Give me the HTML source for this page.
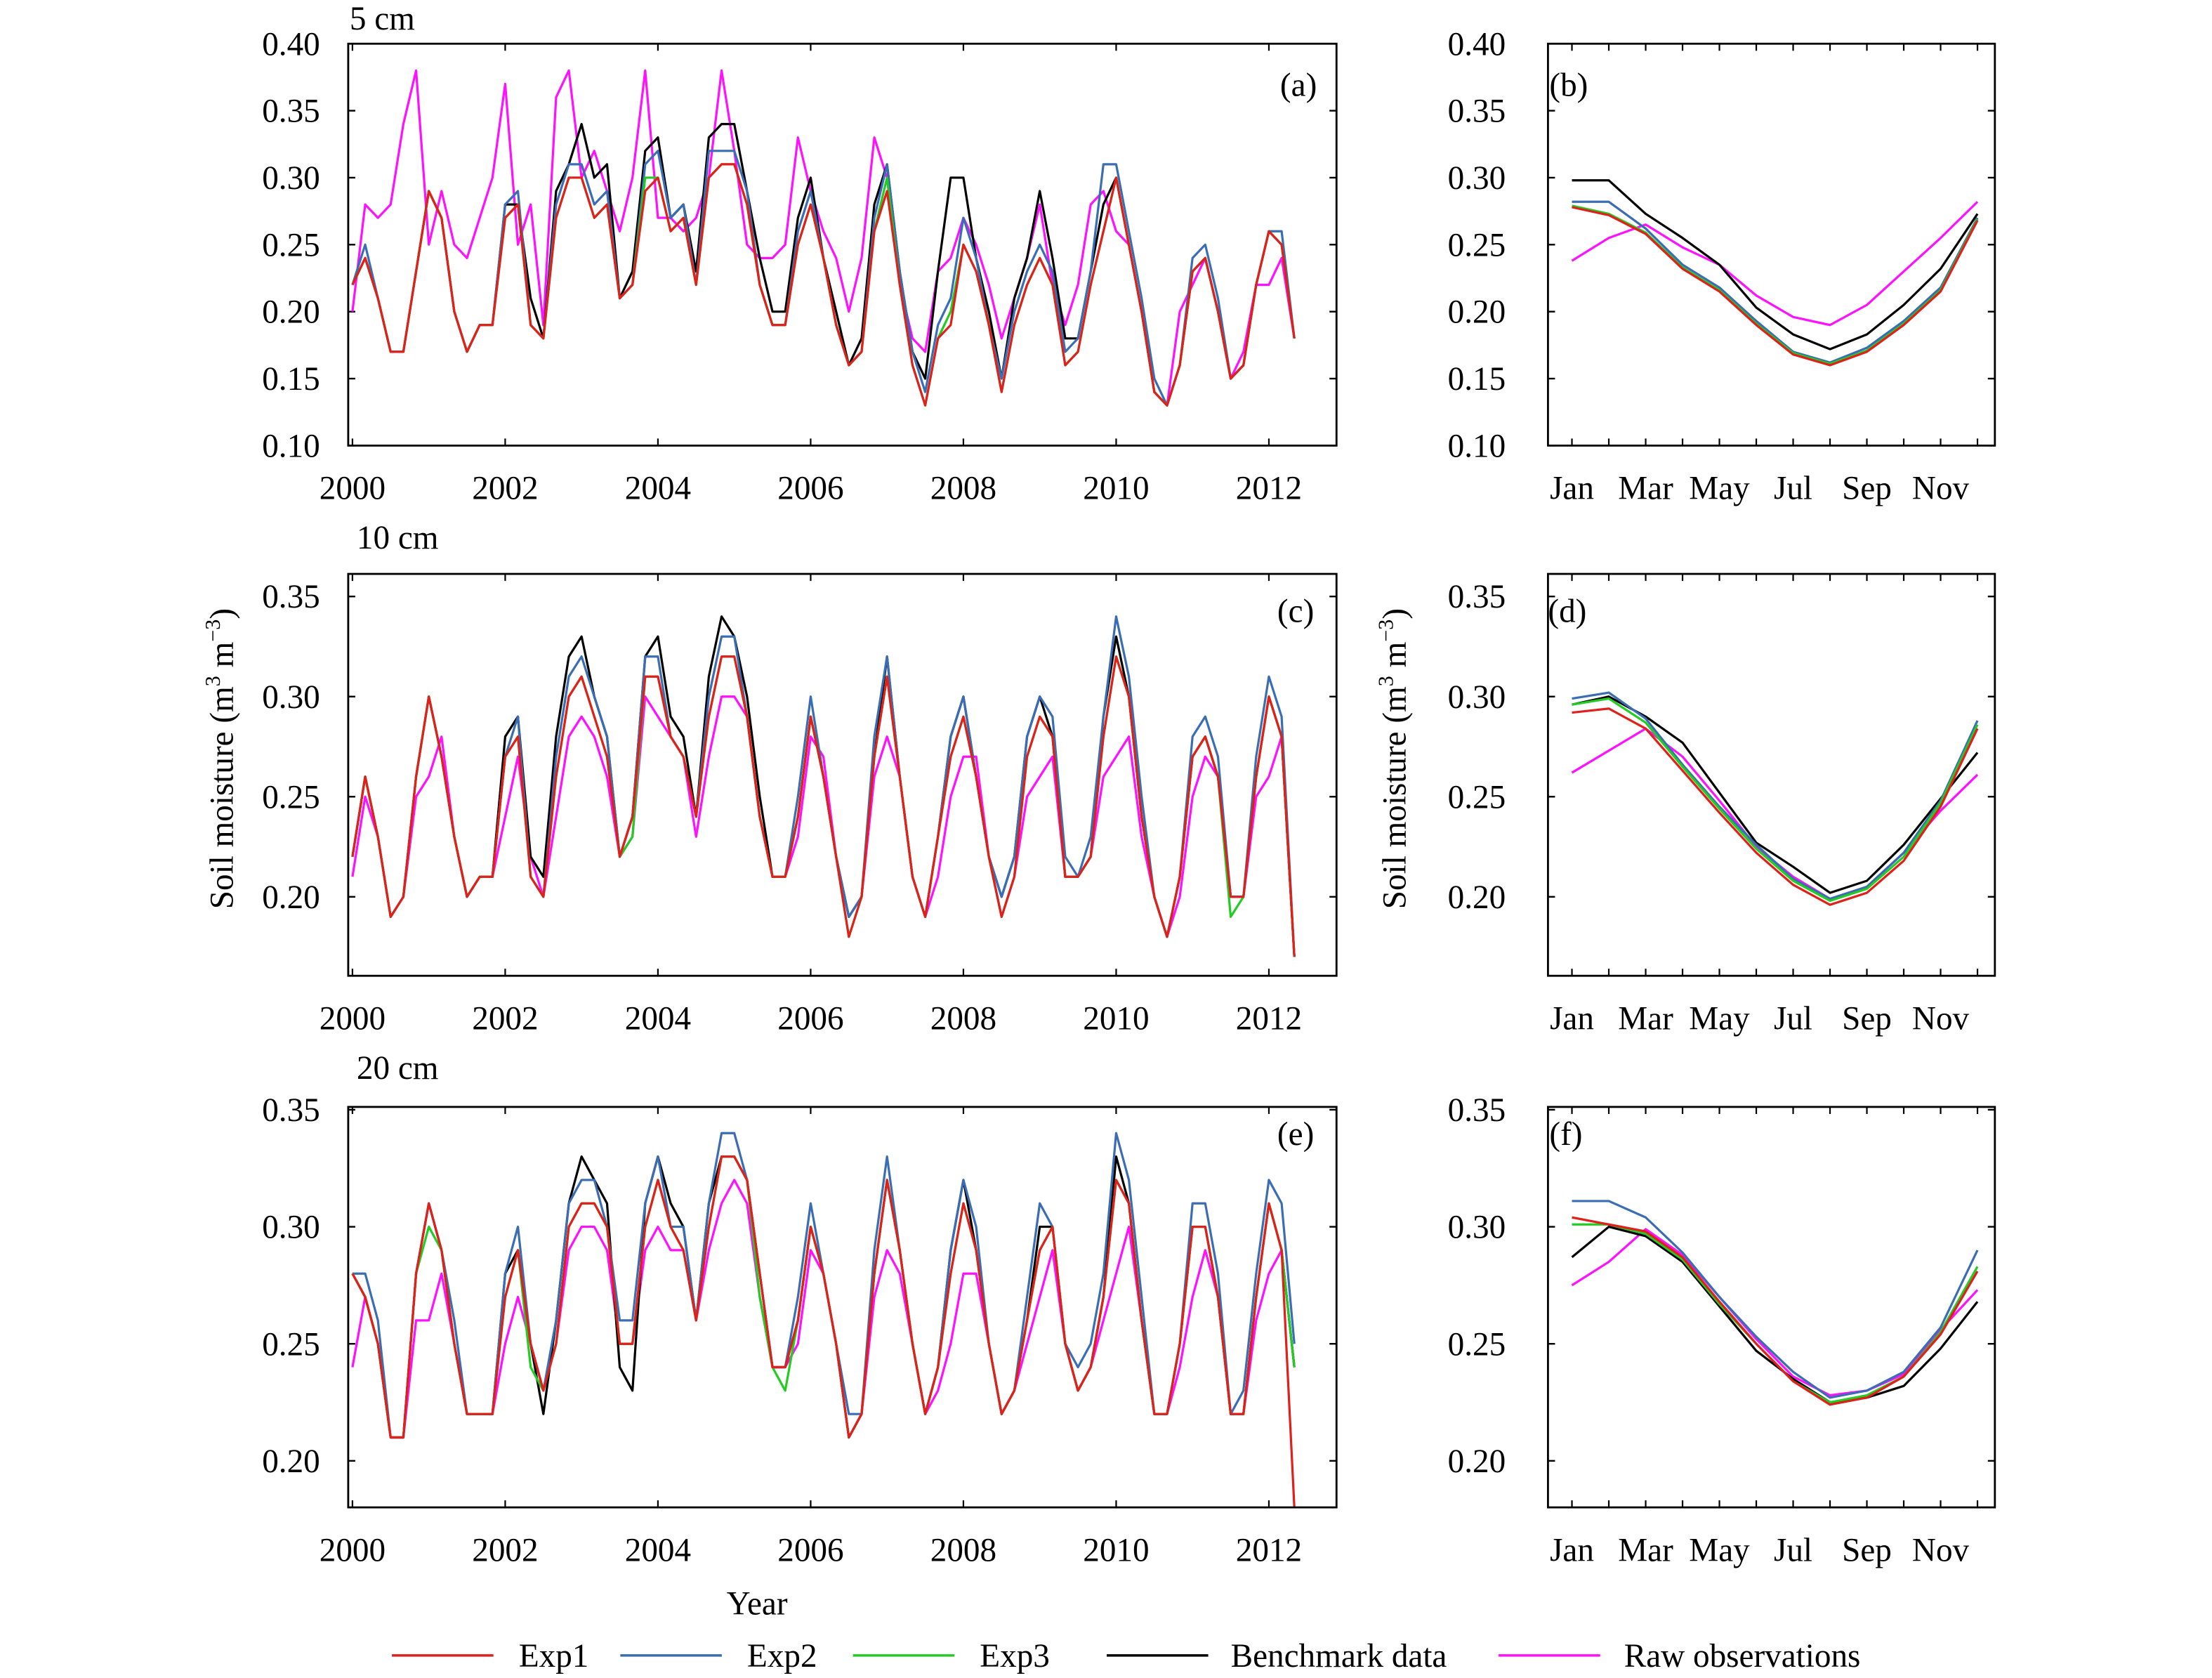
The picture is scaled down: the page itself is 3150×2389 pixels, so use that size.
<!DOCTYPE html>
<html><head><meta charset="utf-8"><style>
html,body{margin:0;padding:0;background:#fff;}
svg{display:block;font-family:"Liberation Serif",serif;}
</style></head><body>
<svg id="fig" width="3150" height="2389" viewBox="0 0 1569 1190" preserveAspectRatio="none" xmlns="http://www.w3.org/2000/svg"></svg>
<script>
// ---- data: time series, bimonthly samples (Jan,Mar,May,Jul,Sep,Nov) from Jan 2000 ----
const e1_5=[.22,.24,.21,.17,.17,.23,.29,.27,.20,.17,.19,.19,.27,.28,.19,.18,.27,.30,.30,.27,.28,.21,.22,.29,.30,.26,.27,.22,.30,.31,.31,.28,.22,.19,.19,.25,.28,.24,.19,.16,.17,.26,.29,.22,.16,.13,.18,.19,.25,.23,.19,.14,.19,.22,.24,.22,.16,.17,.22,.26,.30,.25,.20,.14,.13,.16,.23,.24,.20,.15,.16,.22,.26,.25,.18];
const e2_5=[.22,.25,.21,.17,.17,.23,.29,.27,.20,.17,.19,.19,.28,.29,.19,.18,.28,.31,.31,.28,.29,.21,.22,.31,.32,.27,.28,.22,.32,.32,.32,.29,.22,.19,.19,.26,.29,.24,.19,.16,.17,.27,.31,.23,.17,.14,.19,.21,.27,.24,.19,.15,.20,.23,.25,.23,.17,.18,.23,.31,.31,.26,.21,.15,.13,.16,.24,.25,.21,.15,.16,.22,.26,.26,.18];
const e3_5=[.22,.24,.21,.17,.17,.23,.29,.27,.20,.17,.19,.19,.27,.28,.19,.18,.27,.30,.30,.27,.28,.21,.22,.30,.30,.26,.27,.22,.30,.31,.31,.28,.22,.19,.19,.25,.28,.24,.19,.16,.17,.26,.30,.22,.16,.13,.18,.20,.25,.23,.19,.14,.19,.22,.24,.22,.16,.17,.22,.26,.30,.25,.20,.14,.13,.16,.23,.24,.20,.15,.16,.22,.26,.25,.18];
const bn_5=[.22,.24,.21,.17,.17,.23,.29,.27,.20,.17,.19,.19,.28,.28,.21,.18,.29,.31,.34,.30,.31,.21,.23,.32,.33,.27,.28,.23,.33,.34,.34,.29,.24,.20,.20,.27,.30,.24,.20,.16,.18,.28,.31,.23,.17,.15,.23,.30,.30,.24,.20,.15,.21,.24,.29,.24,.18,.18,.23,.28,.30,.25,.20,.14,.13,.16,.23,.24,.20,.15,.16,.22,.26,.25,.18];
const raw_5=[.20,.28,.27,.28,.34,.38,.25,.29,.25,.24,.27,.30,.37,.25,.28,.19,.36,.38,.30,.32,.29,.26,.30,.38,.27,.27,.26,.27,.30,.38,.32,.25,.24,.24,.25,.33,.29,.26,.24,.20,.24,.33,.30,.22,.18,.17,.23,.24,.27,.25,.22,.18,.21,.24,.28,.22,.19,.22,.28,.29,.26,.25,.20,.14,.13,.20,.22,.24,.20,.15,.17,.22,.22,.24,.18];

const e1_10=[.22,.26,.23,.19,.20,.26,.30,.27,.23,.20,.21,.21,.27,.28,.21,.20,.26,.30,.31,.29,.27,.22,.24,.31,.31,.28,.27,.24,.29,.32,.32,.29,.24,.21,.21,.24,.29,.26,.22,.18,.20,.27,.31,.26,.21,.19,.23,.27,.29,.26,.22,.19,.21,.27,.29,.28,.21,.21,.22,.28,.32,.30,.24,.20,.18,.21,.27,.28,.26,.20,.20,.26,.30,.28,.17];
const e2_10=[.22,.26,.23,.19,.20,.26,.30,.27,.23,.20,.21,.21,.27,.29,.21,.20,.27,.31,.32,.30,.28,.22,.24,.32,.32,.28,.27,.24,.30,.33,.33,.29,.24,.21,.21,.25,.30,.26,.22,.19,.20,.28,.32,.26,.21,.19,.23,.28,.30,.26,.22,.20,.22,.28,.30,.29,.22,.21,.23,.29,.34,.31,.25,.20,.18,.21,.28,.29,.27,.20,.20,.27,.31,.29,.17];
const e3_10=[.22,.26,.23,.19,.20,.26,.30,.27,.23,.20,.21,.21,.27,.28,.21,.20,.26,.30,.31,.29,.27,.22,.23,.31,.31,.28,.27,.24,.29,.32,.32,.29,.24,.21,.21,.24,.29,.26,.22,.18,.20,.27,.31,.26,.21,.19,.23,.27,.29,.26,.22,.19,.21,.27,.29,.28,.21,.21,.22,.28,.32,.30,.24,.20,.18,.21,.27,.28,.26,.19,.20,.26,.30,.28,.17];
const bn_10=[.22,.26,.23,.19,.20,.26,.30,.27,.23,.20,.21,.21,.28,.29,.22,.21,.28,.32,.33,.30,.28,.22,.24,.32,.33,.29,.28,.24,.31,.34,.33,.30,.25,.21,.21,.24,.29,.26,.22,.19,.20,.27,.32,.26,.21,.19,.23,.28,.30,.26,.22,.20,.22,.28,.30,.28,.21,.21,.22,.29,.33,.30,.24,.20,.18,.21,.27,.28,.26,.20,.20,.26,.30,.28,.17];
const raw_10=[.21,.25,.23,.19,.20,.25,.26,.28,.23,.20,.21,.21,.24,.27,.22,.20,.24,.28,.29,.28,.26,.22,.23,.30,.29,.28,.27,.23,.27,.30,.30,.29,.24,.21,.21,.23,.28,.27,.22,.19,.20,.26,.28,.26,.21,.19,.21,.25,.27,.27,.22,.19,.21,.25,.26,.27,.21,.21,.22,.26,.27,.28,.23,.20,.18,.20,.25,.27,.26,.20,.20,.25,.26,.28,.17];

const e1_20=[.28,.27,.25,.21,.21,.28,.31,.29,.25,.22,.22,.22,.27,.29,.25,.23,.25,.30,.31,.31,.30,.25,.25,.30,.32,.30,.29,.26,.30,.33,.33,.32,.28,.24,.24,.26,.30,.28,.25,.21,.22,.28,.32,.29,.25,.22,.24,.28,.31,.29,.25,.22,.23,.26,.29,.30,.25,.23,.24,.27,.32,.31,.26,.22,.22,.25,.30,.30,.27,.22,.22,.27,.31,.29,.18];
const e2_20=[.28,.28,.26,.21,.21,.28,.31,.29,.26,.22,.22,.22,.28,.30,.25,.23,.26,.31,.32,.32,.30,.26,.26,.31,.33,.30,.30,.26,.31,.34,.34,.32,.28,.24,.24,.27,.31,.28,.25,.22,.22,.29,.33,.29,.25,.22,.24,.29,.32,.30,.25,.22,.23,.27,.31,.30,.25,.24,.25,.28,.34,.32,.27,.22,.22,.25,.31,.31,.28,.22,.23,.28,.32,.31,.25];
const e3_20=[.28,.27,.25,.21,.21,.28,.30,.29,.25,.22,.22,.22,.27,.29,.24,.23,.25,.30,.31,.31,.30,.25,.25,.30,.32,.30,.29,.26,.30,.33,.33,.32,.27,.24,.23,.26,.30,.28,.25,.21,.22,.28,.32,.29,.25,.22,.24,.28,.31,.29,.25,.22,.23,.26,.29,.30,.25,.23,.24,.27,.32,.31,.26,.22,.22,.25,.30,.30,.27,.22,.22,.27,.31,.29,.24];
const bn_20=[.28,.27,.25,.21,.21,.28,.31,.29,.25,.22,.22,.22,.28,.29,.25,.22,.26,.31,.33,.32,.31,.24,.23,.31,.33,.31,.30,.26,.31,.33,.33,.32,.28,.24,.24,.26,.30,.28,.25,.21,.22,.28,.32,.29,.25,.22,.24,.29,.32,.29,.25,.22,.23,.26,.30,.30,.25,.23,.24,.27,.33,.31,.26,.22,.22,.25,.30,.30,.27,.22,.22,.27,.31,.29,.24];
const raw_20=[.24,.27,.25,.21,.21,.26,.26,.28,.25,.22,.22,.22,.25,.27,.25,.23,.25,.29,.30,.30,.29,.25,.25,.29,.30,.29,.29,.26,.29,.31,.32,.31,.27,.24,.24,.25,.29,.28,.25,.21,.22,.27,.29,.28,.25,.22,.23,.25,.28,.28,.25,.22,.23,.25,.27,.29,.25,.23,.24,.26,.28,.30,.26,.22,.22,.24,.27,.29,.27,.22,.22,.26,.28,.29,.24];

// ---- data: monthly climatology Jan..Dec ----
const months=["Jan","Mar","May","Jul","Sep","Nov"];
const yearTicks=[2000,2002,2004,2006,2008,2010,2012];
const m1_5=[.278,.272,.258,.232,.215,.190,.168,.160,.170,.190,.215,.268];
const m2_5=[.282,.282,.262,.235,.218,.193,.170,.162,.173,.193,.218,.270];
const m3_5=[.279,.273,.259,.233,.216,.191,.169,.161,.171,.191,.216,.269];
const mb_5=[.298,.298,.273,.255,.235,.203,.183,.172,.183,.205,.232,.273];
const mr_5=[.238,.255,.265,.248,.235,.212,.196,.190,.205,.230,.255,.282];
const m1_10=[.292,.294,.284,.263,.242,.222,.206,.196,.202,.218,.245,.284];
const m2_10=[.299,.302,.289,.266,.245,.226,.209,.199,.205,.222,.248,.288];
const m3_10=[.296,.299,.287,.265,.244,.224,.208,.198,.204,.220,.247,.286];
const mb_10=[.296,.300,.290,.277,.252,.227,.215,.202,.208,.226,.249,.272];
const mr_10=[.262,.273,.284,.270,.248,.225,.210,.199,.205,.222,.243,.261];
const m1_20=[.304,.301,.298,.287,.268,.250,.234,.224,.227,.236,.254,.281];
const m2_20=[.311,.311,.304,.289,.270,.253,.238,.227,.230,.238,.257,.290];
const m3_20=[.301,.301,.297,.286,.267,.250,.234,.225,.228,.236,.255,.283];
const mb_20=[.287,.300,.296,.285,.266,.247,.235,.225,.227,.232,.248,.268];
const mr_20=[.275,.285,.299,.288,.270,.252,.236,.228,.230,.237,.256,.273];

const FS=23.5;
const COL={e1:"#e0201b",e2:"#3b6db4",e3:"#22cc22",bn:"#000000",raw:"#ff10ff"};
const svg=document.getElementById('fig');
const NS="http://www.w3.org/2000/svg";
function mk(tag,attrs,parent){const e=document.createElementNS(NS,tag);for(const k in attrs)e.setAttribute(k,attrs[k]);(parent||svg).appendChild(e);return e;}
function txt(x,y,s,size,anchor,parent){const t=mk('text',{x:x,y:y,'font-size':size,'text-anchor':anchor||'start',fill:'#000'},parent);t.textContent=s;return t;}

function panel(cfg){
  const g=mk('g',{});
  
  
  const {x0,x1,y0,y1,vmin,vmax}=cfg;
  const yS=v=>y1-(v-vmin)/(vmax-vmin)*(y1-y0);
  cfg.yticks.forEach(v=>{
    const y=yS(v);
    const l=mk('line',{x1:x0,x2:x0+5,y1:y,y2:y,stroke:'#000','stroke-width':1.2},g);
    
    
    mk('line',{x1:x1,x2:x1-5,y1:y,y2:y,stroke:'#000','stroke-width':1.2},g);
    const t=txt(x0-cfg.lblOff,y+8,v.toFixed(2),FS,'end',g);
    
    
  });
  cfg.minor.forEach(v=>{
    const x=cfg.xS(v);
    mk('line',{x1:x,x2:x,y1:y1,y2:y1-5,stroke:'#000','stroke-width':1.1},g);
    mk('line',{x1:x,x2:x,y1:y0,y2:y0+5,stroke:'#000','stroke-width':1.1},g);
  });
  cfg.xticks.forEach(tk=>{
    const x=cfg.xS(tk.v);
    const t=txt(x,y1+38,tk.label,FS,'middle',g);
    
    
  });
  const order=['raw','bn','e2','e3','e1'];
  const clip='c'+cfg.name;
  const cp=mk('clipPath',{id:clip},g);mk('rect',{x:x0,y:y0,width:x1-x0,height:y1-y0},cp);
  order.forEach(k=>{
    const arr=cfg.series[k];
    const pts=arr.map((v,i)=>cfg.xS(cfg.xi(i)).toFixed(2)+','+yS(v).toFixed(2)).join(' ');
    const p=mk('polyline',{points:pts,fill:'none',stroke:COL[k],'stroke-width':1.6,'stroke-linejoin':'round','clip-path':'url(#'+clip+')'},g);
    
    
  });
  const fr=mk('rect',{x:x0,y:y0,width:x1-x0,height:y1-y0,fill:'none',stroke:'#000','stroke-width':1.4},g);
  
  
  const pl=txt(cfg.lx,cfg.ly,cfg.label,FS,'start',g);
  
  
}
const tsX=t=>250+t*54.17;
const tsI=i=>i*2/12;
const yTicks=yearTicks.map(y=>({v:y-2000,label:String(y)}));
const yMinor=yearTicks.map(y=>y-2000);
const mX=m=>1115+m*26.15;
const mI=i=>i;
const mTicks=months.map((m,i)=>({v:i*2,label:m}));
const mMinor=[0,1,2,3,4,5,6,7,8,9,10,11];

panel({name:'panel-a',x0:247,x1:948,y0:31,y1:316,vmin:0.10,vmax:0.40,yticks:[.10,.15,.20,.25,.30,.35,.40],xticks:yTicks,minor:yMinor,xS:tsX,xi:tsI,lblOff:20,series:{e1:e1_5,e2:e2_5,e3:e3_5,bn:bn_5,raw:raw_5},label:'(a)',lx:908,ly:68});
panel({name:'panel-b',x0:1098,x1:1415,y0:31,y1:316,vmin:0.10,vmax:0.40,yticks:[.10,.15,.20,.25,.30,.35,.40],xticks:mTicks,minor:mMinor,xS:mX,xi:mI,lblOff:30,series:{e1:m1_5,e2:m2_5,e3:m3_5,bn:mb_5,raw:mr_5},label:'(b)',lx:1099,ly:68});
const v10a=0.20-56/1420, v10b=0.20+229/1420;
panel({name:'panel-c',x0:247,x1:948,y0:407,y1:692,vmin:v10a,vmax:v10b,yticks:[.20,.25,.30,.35],xticks:yTicks,minor:yMinor,xS:tsX,xi:tsI,lblOff:20,series:{e1:e1_10,e2:e2_10,e3:e3_10,bn:bn_10,raw:raw_10},label:'(c)',lx:906,ly:441});
panel({name:'panel-d',x0:1098,x1:1415,y0:407,y1:692,vmin:v10a,vmax:v10b,yticks:[.20,.25,.30,.35],xticks:mTicks,minor:mMinor,xS:mX,xi:mI,lblOff:30,series:{e1:m1_10,e2:m2_10,e3:m3_10,bn:mb_10,raw:mr_10},label:'(d)',lx:1098,ly:441});
const v20a=0.20-33/1660, v20b=0.20+251/1660;
panel({name:'panel-e',x0:247,x1:948,y0:785,y1:1069,vmin:v20a,vmax:v20b,yticks:[.20,.25,.30,.35],xticks:yTicks,minor:yMinor,xS:tsX,xi:tsI,lblOff:20,series:{e1:e1_20,e2:e2_20,e3:e3_20,bn:bn_20,raw:raw_20},label:'(e)',lx:906,ly:812});
panel({name:'panel-f',x0:1098,x1:1415,y0:785,y1:1069,vmin:v20a,vmax:v20b,yticks:[.20,.25,.30,.35],xticks:mTicks,minor:mMinor,xS:mX,xi:mI,lblOff:30,series:{e1:m1_20,e2:m2_20,e3:m3_20,bn:mb_20,raw:mr_20},label:'(f)',lx:1099,ly:812});
</script>
<script>
(function(){
const FS=23.5;
const svg=document.getElementById('fig');const NS="http://www.w3.org/2000/svg";
function t(x,y,s,size,anchor){const e=document.createElementNS(NS,'text');e.setAttribute('x',x);e.setAttribute('y',y);e.setAttribute('font-size',size);e.setAttribute('text-anchor',anchor||'start');e.textContent=s;svg.appendChild(e);return e;}
let a=t(248,21,'5 cm',FS);
a=t(253,389,'10 cm',FS);
a=t(253,765,'20 cm',FS);
a=t(537,1145,'Year',FS,'middle');
[[165,'y-axis-title-left'],[997,'y-axis-title-right']].forEach(([x,n])=>{
  const e=document.createElementNS(NS,'text');
  e.setAttribute('transform','translate('+x+',538) rotate(-90)');
  e.setAttribute('font-size',FS);e.setAttribute('text-anchor','middle');
  e.innerHTML='Soil moisture (m<tspan font-size="15" dy="-9">3</tspan><tspan dy="9"> m</tspan><tspan font-size="15" dy="-9">−3</tspan><tspan dy="9">)</tspan>';
  svg.appendChild(e);
  
  
});
const leg=[[278,368,'#e0201b','Exp1'],[440,530,'#3b6db4','Exp2'],[605,695,'#22cc22','Exp3'],[785,873,'#000000','Benchmark data'],[1063,1152,'#ff10ff','Raw observations']];
leg.forEach(([lx,tx,c,s])=>{
  const g=document.createElementNS(NS,'g');svg.appendChild(g);
  
  
  const l=document.createElementNS(NS,'line');
  l.setAttribute('x1',lx);l.setAttribute('x2',lx+72);l.setAttribute('y1',1174);l.setAttribute('y2',1174);
  l.setAttribute('stroke',c);l.setAttribute('stroke-width',1.8);g.appendChild(l);
  const e=document.createElementNS(NS,'text');e.setAttribute('x',tx);e.setAttribute('y',1182);e.setAttribute('font-size',FS);e.textContent=s;g.appendChild(e);
});
})();
</script>
</body></html>
